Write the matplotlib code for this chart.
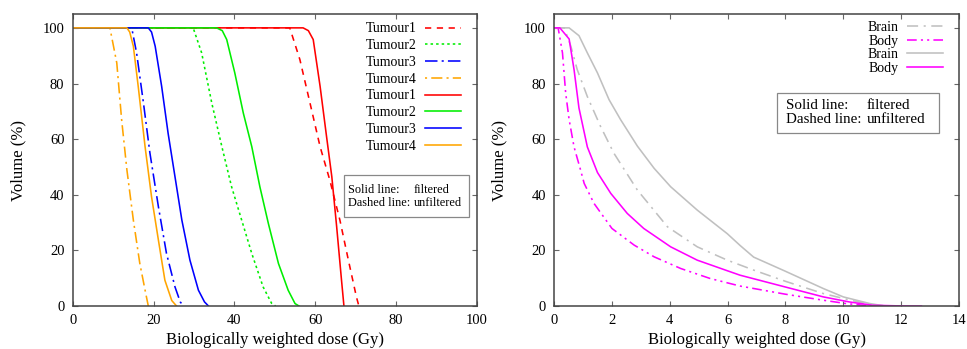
import matplotlib
matplotlib.use("Agg")
import matplotlib.pyplot as plt
from matplotlib.patches import Rectangle

plt.rcParams['font.family'] = ['Liberation Serif', 'DejaVu Serif']
plt.rcParams['lines.scale_dashes'] = False

# ---- left panel: tumour DVHs (dose in Gy, volume in %) ----
t1_unf_x = [0, 53.7, 56.2, 58.7, 61.2, 63.6, 66.1, 68.2, 70.2, 70.8]
t1_unf_y = [100, 100, 88.6, 73, 57.3, 45.3, 30.9, 16.5, 3.2, 0]
t2_unf_x = [0, 29.8, 31.9, 34.4, 36.9, 39.3, 41.8, 44.3, 47.1, 49.2, 50.2]
t2_unf_y = [100, 100, 91, 73, 57.3, 42.9, 30.9, 18.9, 6.9, 1, 0]
t3_unf_x = [0, 14.6, 15.8, 17.5, 19.1, 21.2, 23.2, 25.3, 26.6, 27.4]
t3_unf_y = [100, 100, 91, 73, 55, 35.7, 18.9, 6.9, 1.5, 0]
t4_unf_x = [0, 9.2, 10.9, 12.1, 13.4, 15.0, 16.6, 18.0, 18.7]
t4_unf_y = [100, 100, 87.4, 67, 49, 30.9, 15.3, 5, 0]

t1_fil_x = [0, 57.0, 58.3, 59.5, 61.2, 62.8, 64.1, 65.3, 66.5, 67.1]
t1_fil_y = [100, 100, 99, 95.8, 79, 60.9, 46.5, 28.5, 9.3, 0]
t2_fil_x = [0, 35.6, 37.0, 38.1, 40.1, 42.2, 44.3, 46.3, 48.4, 50.9, 53.3, 55.0, 56.0]
t2_fil_y = [100, 100, 99, 95.8, 83.8, 69.4, 57.3, 42.9, 29.7, 15.3, 5.7, 0.9, 0]
t3_fil_x = [0, 18.7, 19.5, 20.4, 22.0, 23.6, 25.3, 27.0, 29.0, 31.1, 32.6, 33.6]
t3_fil_y = [100, 100, 98.5, 93.4, 79, 62.1, 46.5, 30.9, 16.5, 5.7, 1.5, 0]
t4_fil_x = [0, 13.4, 14.1, 15.0, 16.2, 17.9, 19.5, 21.2, 22.8, 24.5, 25.7]
t4_fil_y = [100, 100, 98.5, 93.4, 79, 57.3, 39.3, 23.7, 9.3, 2, 0]

# ---- right panel: organ DVHs ----
brain_unf_x = [0, 0.35, 0.58, 0.8, 1.15, 1.61, 2.07, 2.88, 3.92, 4.95, 5.99, 6.91, 8.0,
               9.31, 10.3, 11.0, 11.5]
brain_unf_y = [100, 100, 93.4, 85, 75.3, 64.5, 54.9, 41.7, 28.5, 21.3, 16.5, 12.9, 8.9,
               4.5, 2, 0.5, 0]
body_unf_x = [0, 0.14, 0.29, 0.4, 0.52, 0.69, 0.9, 1.04, 1.38, 2.0, 2.77, 3.46, 4.38, 5.4, 6.43,
              7.98, 9.31, 10.1, 10.8, 11.5]
body_unf_y = [100, 100, 91, 76.6, 67, 57.2, 49.5, 44.1, 36.9, 27.9, 21.9, 17.7, 13.5, 9.9, 7.2,
              4.3, 2.1, 0.9, 0.2, 0]
brain_fil_x = [0, 0.52, 0.86, 1.15, 1.5, 1.9, 2.3, 2.88, 3.46, 4.03, 4.95, 5.99, 6.43, 6.9, 7.98,
               9.31, 10.0, 10.92, 11.4, 12.0]
brain_fil_y = [100, 100, 97.2, 91, 83.8, 74.2, 67, 57.5, 49.5, 42.9, 34.5, 26, 21.8, 17.6, 12.6,
               6.3, 3.3, 0.9, 0.1, 0]
body_fil_x = [0, 0.2, 0.52, 0.69, 0.86, 1.15, 1.5, 1.96, 2.53, 3.1, 4.03, 4.95, 5.99, 6.43, 7.98,
              9.31, 10.2, 11.0, 12.0, 12.7]
body_fil_y = [100, 100, 96, 85, 71.2, 57.2, 48, 40.5, 33.3, 27.9, 21.3, 16.5, 12.7, 11.1, 6.9,
              3.3, 1.5, 0.3, 0.05, 0]

left_xticks = [0, 20, 40, 60, 80, 100]
right_xticks = [0, 2, 4, 6, 8, 10, 12, 14]
yticks = [0, 20, 40, 60, 80, 100]

red, green, blue, orange = '#ff0000', '#00ee00', '#0000ff', '#ffa500'
magenta, grey = '#ff00ff', '#c0c0c0'
lw = 1.15

fig = plt.figure(figsize=(9.67, 3.49), dpi=100)
ax1 = fig.add_axes([0.0752, 0.123, 0.418, 0.837])
ax2 = fig.add_axes([0.573, 0.123, 0.4187, 0.837])

ax1.plot(t1_unf_x, t1_unf_y, color=red, lw=lw, ls=(0, (4.5, 4)), label='Tumour1')
ax1.plot(t2_unf_x, t2_unf_y, color=green, lw=lw, ls=(0, (1.8, 2.2)), label='Tumour2')
ax1.plot(t3_unf_x, t3_unf_y, color=blue, lw=lw, ls=(0, (9, 3, 1.5, 3)), label='Tumour3')
ax1.plot(t4_unf_x, t4_unf_y, color=orange, lw=lw, ls=(0, (1.5, 3, 8, 3)), label='Tumour4')
ax1.plot(t1_fil_x, t1_fil_y, color=red, lw=lw, label='Tumour1')
ax1.plot(t2_fil_x, t2_fil_y, color=green, lw=lw, label='Tumour2')
ax1.plot(t3_fil_x, t3_fil_y, color=blue, lw=lw, label='Tumour3')
ax1.plot(t4_fil_x, t4_fil_y, color=orange, lw=lw, label='Tumour4')

ax2.plot(brain_unf_x, brain_unf_y, color=grey, lw=lw, ls=(0, (8, 4, 1.5, 4)), label='Brain')
ax2.plot(body_unf_x, body_unf_y, color=magenta, lw=lw, ls=(0, (7, 3, 1.5, 3, 1.5, 3)), label='Body')
ax2.plot(brain_fil_x, brain_fil_y, color=grey, lw=lw, label='Brain')
ax2.plot(body_fil_x, body_fil_y, color=magenta, lw=lw, label='Body')

for ax, xt, xmax in [(ax1, left_xticks, 100), (ax2, right_xticks, 14)]:
    ax.set_xlim(0, xmax)
    ax.set_ylim(0, 105)
    ax.set_xticks(xt)
    ax.set_yticks(yticks)
    ax.tick_params(direction='in', length=3.5, width=0.8, color='#666666',
                   top=True, right=True, labelsize=10.5, pad=6)
    for s in ax.spines.values():
        s.set_color('#444444')
        s.set_linewidth(1.1)
    ax.set_ylabel('Volume (%)', fontsize=12)
    ax.set_xlabel('Biologically weighted dose (Gy)', fontsize=12)
    ax.yaxis.set_label_coords(-0.115, 0.5)
    ax.xaxis.set_label_coords(0.5, -0.09)

ax1.legend(loc='upper right', bbox_to_anchor=(0.960, 0.971), frameon=False, markerfirst=False,
           fontsize=10, handlelength=2.6, handletextpad=0.55, labelspacing=0.27,
           borderpad=0, borderaxespad=0)
ax2.legend(loc='upper right', bbox_to_anchor=(0.960, 0.976), frameon=False, markerfirst=False,
           fontsize=10, handlelength=2.6, handletextpad=0.55, labelspacing=0.05,
           borderpad=0, borderaxespad=0)

# note boxes
ax1.add_patch(Rectangle((0.671, 0.306), 0.310, 0.143, transform=ax1.transAxes, fill=False,
                        edgecolor='#888888', lw=0.9))
ax1.text(0.682, 0.397, 'Solid line:', transform=ax1.transAxes, fontsize=8.8, va='center')
ax1.text(0.682, 0.352, 'Dashed line:', transform=ax1.transAxes, fontsize=8.8, va='center')
ax1.text(0.844, 0.397, 'filtered', transform=ax1.transAxes, fontsize=8.8, va='center')
ax1.text(0.844, 0.352, 'unfiltered', transform=ax1.transAxes, fontsize=8.8, va='center')

ax2.add_patch(Rectangle((0.550, 0.591), 0.401, 0.140, transform=ax2.transAxes, fill=False,
                        edgecolor='#888888', lw=0.9))
ax2.text(0.573, 0.685, 'Solid line:', transform=ax2.transAxes, fontsize=10.8, va='center')
ax2.text(0.573, 0.637, 'Dashed line:', transform=ax2.transAxes, fontsize=10.8, va='center')
ax2.text(0.772, 0.685, 'filtered', transform=ax2.transAxes, fontsize=10.8, va='center')
ax2.text(0.772, 0.637, 'unfiltered', transform=ax2.transAxes, fontsize=10.8, va='center')

fig.savefig('out.png', dpi=100)
